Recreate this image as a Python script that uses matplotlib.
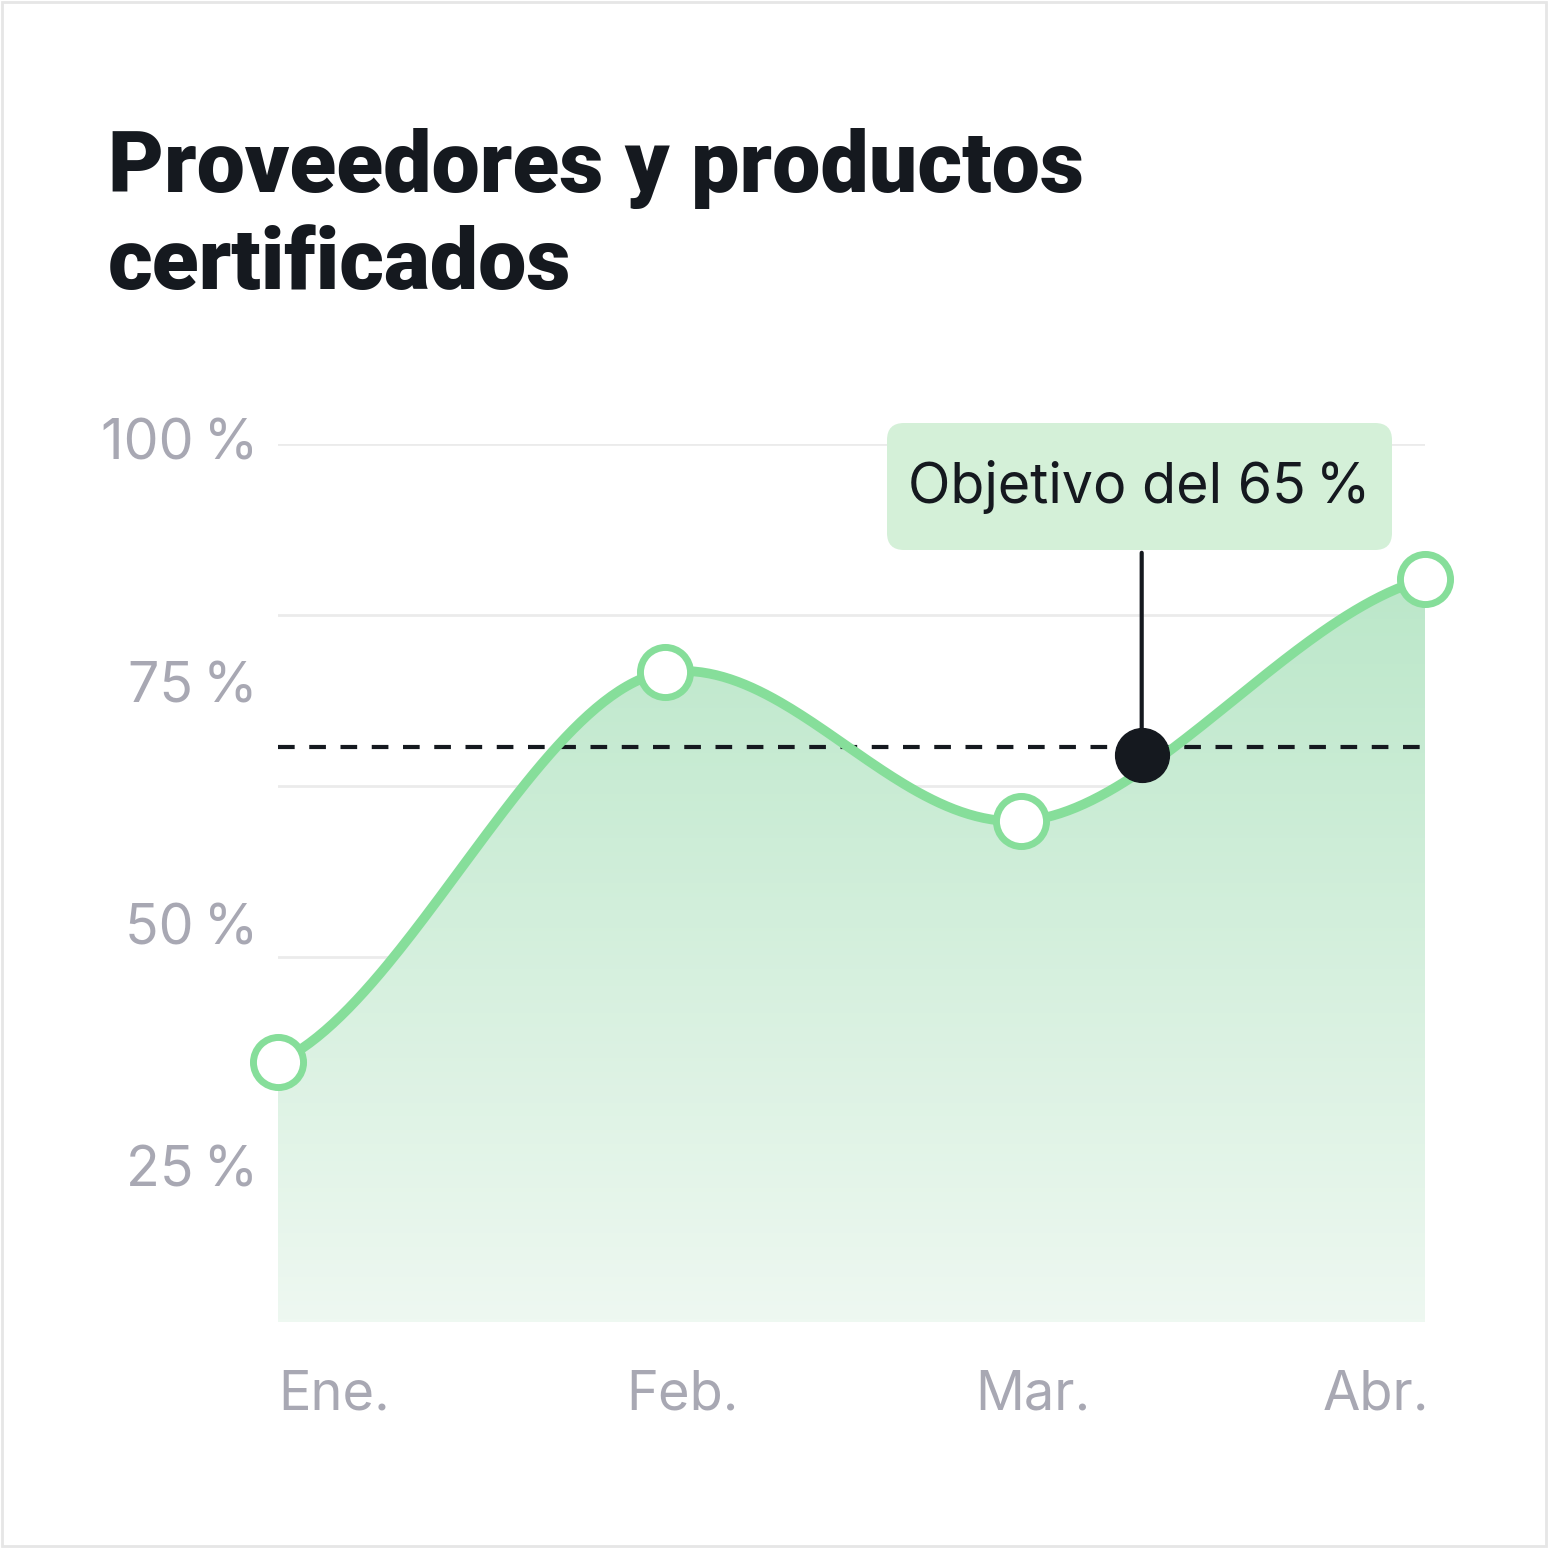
import numpy as np
import matplotlib
matplotlib.use("Agg")
import matplotlib.pyplot as plt
from matplotlib.patches import FancyBboxPatch, Rectangle
from matplotlib.colors import LinearSegmentedColormap

months = ["Ene.", "Feb.", "Mar.", "Abr."]
month_x = [0.0, 0.337, 0.648, 1.0]
values = [27.7, 73.3, 55.9, 84.2]
target = 64.5
target_x = 0.753
target_y = 63.6
target_label = "Objetivo del 65\u2009%"
ytick_vals = [100, 71.5, 43.2, 14.9]
ytick_labels = ["100\u2009%", "75\u2009%", "50\u2009%", "25\u2009%"]
grid_vals = [100, 80, 60, 40, 20]
title = "Proveedores y productos\ncertificados"

W = 1548
fig = plt.figure(figsize=(15.48, 15.48), dpi=100)
fig.patches.append(Rectangle((0.001, 0.001), 0.998, 0.998, transform=fig.transFigure,
                             fill=False, ec="#e6e6e6", lw=2))
L, R, T, B = 278/W, 1425/W, 444/W, 1322/W
ax = fig.add_axes([L, 1-B, R-L, B-T])
ymin, ymax = -2.7, 100
ax.set_xlim(0, 1); ax.set_ylim(ymin, ymax)
ax.axis("off")
for g in grid_vals:
    ax.axhline(g, color="#ebebeb", lw=2, zorder=1)

# Hermite smoothing with reduced tangents
xs = np.array(month_x); ys = np.array(values)
n = len(xs)
mx = np.zeros(n); my = np.zeros(n)
for i in range(n):
    a = max(i-1, 0); b = min(i+1, n-1)
    mx[i] = (xs[b]-xs[a]) / (b-a)
    my[i] = (ys[b]-ys[a]) / (b-a) * 0.45
cx, cy = [], []
t = np.linspace(0, 1, 100)
h00 = 2*t**3-3*t**2+1; h10 = t**3-2*t**2+t; h01 = -2*t**3+3*t**2; h11 = t**3-t**2
for i in range(n-1):
    cx.extend(h00*xs[i] + h10*mx[i] + h01*xs[i+1] + h11*mx[i+1])
    cy.extend(h00*ys[i] + h10*my[i] + h01*ys[i+1] + h11*my[i+1])
cx, cy = np.array(cx), np.array(cy)

cmap = LinearSegmentedColormap.from_list("g", ["#eef8f1", "#b2e4c2"])
grad = np.linspace(0, 1, 256).reshape(-1, 1)
im = ax.imshow(grad, extent=[0, 1, ymin, ymax], origin="lower", aspect="auto", cmap=cmap, zorder=2)
clip = plt.Polygon(np.column_stack([np.r_[cx, 1, 0], np.r_[cy, ymin, ymin]]), transform=ax.transData)
im.set_clip_path(clip)
ax.plot(cx, cy, color="#86de9a", lw=7, zorder=4, solid_capstyle="round", clip_on=False)
ax.axhline(target, color="#15191f", lw=3, ls=(0, (4, 3.5)), zorder=3)
ax.scatter(xs, ys, s=1300, facecolor="white", edgecolor="#86de9a", linewidth=5, zorder=5, clip_on=False)

# annotation
ax.scatter([target_x], [target_y], s=1500, color="#15191f", zorder=6, clip_on=False)
bx0, bx1 = 887/W, 1392/W
by0, by1 = 1-550/W, 1-423/W
fig.patches.append(FancyBboxPatch((bx0, by0), bx1-bx0, by1-by0, boxstyle="round,pad=0,rounding_size=0.011",
                                  transform=fig.transFigure, fc="#d4f0d8", ec="none", zorder=10))
fig.text((bx0+bx1)/2, (by0+by1)/2, target_label, ha="center", va="center", fontsize=40,
         family=["Inter", "DejaVu Sans"], color="#15191f", zorder=11)
ax.annotate("", xy=(target_x, target_y), xytext=(target_x, 100 - (550-444)/8.55),
            arrowprops=dict(arrowstyle="-", color="#15191f", lw=3), zorder=5, annotation_clip=False)

for v, lab in zip(ytick_vals, ytick_labels):
    ax.text(-20/1147, v, lab, ha="right", va="center", fontsize=40,
            family=["Inter", "DejaVu Sans"], color="#a8a8b3")
label_left = [278, 626, 975, 1323]
for px_, lab in zip(label_left, months):
    fig.text(px_/W, 1-1395/W, lab, ha="left", va="center", fontsize=39, family="Inter", color="#a8a8b3")

fig.text(108/W, 1-128/W, title, ha="left", va="top", fontsize=62, family="Roboto",
         fontweight="black", color="#15191f", linespacing=1.25)
fig.savefig("out.png", dpi=100)
